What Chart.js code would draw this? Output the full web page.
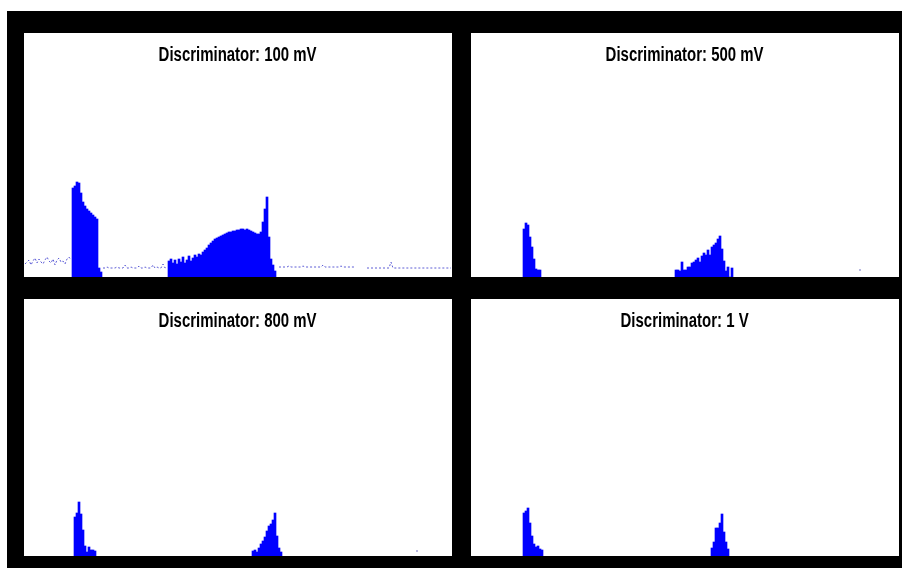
<!DOCTYPE html>
<html>
<head>
<meta charset="utf-8">
<script src="https://cdn.jsdelivr.net/npm/chart.js@4.4.1/dist/chart.umd.min.js"></script>
<style>
  html, body { margin: 0; padding: 0; background: #ffffff; width: 902px; height: 568px; overflow: hidden; }
  #frame { position: absolute; left: 7px; top: 11px; width: 895px; height: 557px; background: #000000; }
  .panel { position: absolute; background: #ffffff; }
  #p1 { left: 24px; top: 33px; width: 428px; height: 244px; }
  #p2 { left: 471px; top: 33px; width: 428px; height: 244px; }
  #p3 { left: 24px; top: 299px; width: 428px; height: 257px; }
  #p4 { left: 471px; top: 299px; width: 428px; height: 257px; }
  .title {
    position: absolute; left: 0; width: 428px; top: 11px; text-align: center;
    font-family: 'Liberation Sans', Arial, sans-serif; font-weight: bold; font-size: 20px;
    line-height: 20px; color: #000; white-space: nowrap; pointer-events: none;
  }
  .title span { display: inline-block; transform-origin: 50% 50%; }
  canvas { position: absolute; left: 0; top: 0; }
</style>
</head>
<body>
<div id="frame"></div>
<div class="panel" id="p1"><canvas id="c1"></canvas><div class="title"><span id="t1"></span></div></div>
<div class="panel" id="p2"><canvas id="c2"></canvas><div class="title"><span id="t2"></span></div></div>
<div class="panel" id="p3"><canvas id="c3"></canvas><div class="title"><span id="t3"></span></div></div>
<div class="panel" id="p4"><canvas id="c4"></canvas><div class="title"><span id="t4"></span></div></div>
<script>
// ---- Data (histogram channel bins, counts in arbitrary units) ----
const titles = ["Discriminator: 100 mV", "Discriminator: 500 mV", "Discriminator: 800 mV", "Discriminator: 1 V"];
const binCount = 214;

// Panel 1: 100 mV
const p1Peak1Start = 24;
const p1Peak1 = [89, 91, 95, 94, 84, 75, 71, 68, 66, 64, 62, 60, 58, 9, 5];
const p1Peak2Start = 72;
const p1Peak2 = [16, 18, 14, 17, 13, 18, 15, 20, 14, 17, 21, 16, 19, 22, 20, 23, 22, 25, 27, 29,
                 32, 34, 36, 38, 39, 40, 41, 42, 43, 44, 45, 45, 46, 46, 47, 47, 48, 48, 47, 48,
                 47, 46, 45, 44, 43, 43, 45, 55, 68, 80, 40, 18, 12, 6];
const p1NoiseLeftStart = 0;
const p1NoiseLeft = [13, 15, 17, 12, 16, 19, 14, 18, 15, 13, 17, 20, 16, 14, 18, 12, 17, 19, 15, 16, 13, 18, 20, 17];
const p1NoiseMidStart = 39;
const p1NoiseMid = [9, 9, 10, 9, 9, 9, 9, 10, 9, 9, 9, 12, 9, 9, 10, 9, 9, 9, 11, 9, 9, 10, 9, 9, 9, 12, 9, 10, 9, 9, 13, 9, 10];
const p1NoiseRightStart = 127;
const p1NoiseRight = [10, 10, 10, 10, 10, 11, 10, 10, 10, 10, 10, 10, 11, 10, 10, 10, 10, 10, 10, 10,
                      10, 10, 12, 10, 10, 10, 10, 10, 10, 10, 10, 11, 10, 10, 10, 10, 10, 10, 10,
                      null, null, null, null, null,
                      9, 9, 9, 9, 9, 9, 9, 9, 9, 9, 9, 9, 15, 9, 9, 9, 9, 9, 9, 9,
                      9, 9, 9, 9, 9, 9, 9, 9, 9, 9, 9, 9, 9, 9, 9, 9, 9, 9, 9, 9, 9, 9, 9];

// Panel 2: 500 mV
const p2Peak1Start = 26;
const p2Peak1 = [48, 54, 52, 40, 30, 18, 8, 7, 7];
const p2Peak2Start = 102;
const p2Peak2 = [7, 7, 6, 15, 7, 7, 10, 10, 14, 15, 17, 19, 15, 21, 24, 22, 27, 22, 30, 32,
                 34, 38, 41, 28, 16, 6, 10, 0, 9];
const p2DotBin = 194;
const p2Dot = [7];

// Panel 3: 800 mV
const p3Peak1Start = 25;
const p3Peak1 = [39, 43, 54, 42, 26, 10, 4, 9, 6, 6, 5];
const p3Peak2Start = 114;
const p3Peak2 = [5, 6, 4, 8, 12, 15, 19, 25, 30, 32, 36, 43, 20, 8, 4];
const p3DotBin = 196;
const p3Dot = [5];

// Panel 4: 1 V
const p4Peak1Start = 26;
const p4Peak1 = [43, 45, 48, 33, 20, 12, 9, 10, 7, 6];
const p4Peak2Start = 120;
const p4Peak2 = [8, 14, 28, 28, 33, 42, 24, 14, 7];

// ---- Build ----
function series(start, values) {
  return values.map((v, i) => ({ x: start + i, y: v }));
}

const BAR_COLOR = '#0000ff';
const NOISE_COLOR = 'rgba(40, 40, 200, 0.75)';

function barDataset(points) {
  return {
    type: 'bar', data: points, backgroundColor: BAR_COLOR, borderWidth: 0,
    barThickness: 2, grouped: false, order: 2
  };
}
function noiseLine(points) {
  return {
    type: 'line', data: points, borderColor: NOISE_COLOR, borderWidth: 1,
    borderDash: [2, 2], pointRadius: 0, pointHoverRadius: 0, tension: 0, spanGaps: false, order: 1
  };
}
function noiseDots(points) {
  return {
    type: 'line', data: points, showLine: false, pointRadius: 1, pointHoverRadius: 0,
    pointBackgroundColor: 'rgba(120,120,200,0.7)', pointBorderWidth: 0, order: 1
  };
}

const panels = [
  { id: 'c1', t: 't1', title: titles[0], yMax: 200, datasets: [
      barDataset(series(p1Peak1Start, p1Peak1).concat(series(p1Peak2Start, p1Peak2))),
      noiseLine(series(p1NoiseLeftStart, p1NoiseLeft)),
      noiseLine(series(p1NoiseMidStart, p1NoiseMid)),
      noiseLine(series(p1NoiseRightStart, p1NoiseRight))
  ]},
  { id: 'c2', t: 't2', title: titles[1], yMax: 200, datasets: [
      barDataset(series(p2Peak1Start, p2Peak1).concat(series(p2Peak2Start, p2Peak2))),
      noiseDots(series(p2DotBin, p2Dot))
  ]},
  { id: 'c3', t: 't3', title: titles[2], yMax: 213, datasets: [
      barDataset(series(p3Peak1Start, p3Peak1).concat(series(p3Peak2Start, p3Peak2))),
      noiseDots(series(p3DotBin, p3Dot))
  ]},
  { id: 'c4', t: 't4', title: titles[3], yMax: 213, datasets: [
      barDataset(series(p4Peak1Start, p4Peak1).concat(series(p4Peak2Start, p4Peak2)))
  ]}
];

// Titles (condensed bold, as in the original slide)
panels.forEach(p => { document.getElementById(p.t).textContent = p.title; });
const refWidth = document.getElementById('t1').getBoundingClientRect().width;
const squeeze = 158 / refWidth;
panels.forEach(p => { document.getElementById(p.t).style.transform = 'scaleX(' + squeeze + ')'; });

panels.forEach(p => {
  new Chart(document.getElementById(p.id), {
    type: 'bar',
    data: { datasets: p.datasets },
    options: {
      animation: false,
      responsive: true,
      maintainAspectRatio: false,
      devicePixelRatio: 1,
      layout: { autoPadding: false, padding: { top: 44, left: 0, right: 0, bottom: 0 } },
      plugins: {
        legend: { display: false },
        tooltip: { enabled: false },
        title: { display: false }
      },
      scales: {
        x: { type: 'linear', min: -0.5, max: binCount - 0.5, offset: false, display: false },
        y: { min: 0, max: p.yMax, display: false }
      }
    }
  });
});
</script>
</body>
</html>
